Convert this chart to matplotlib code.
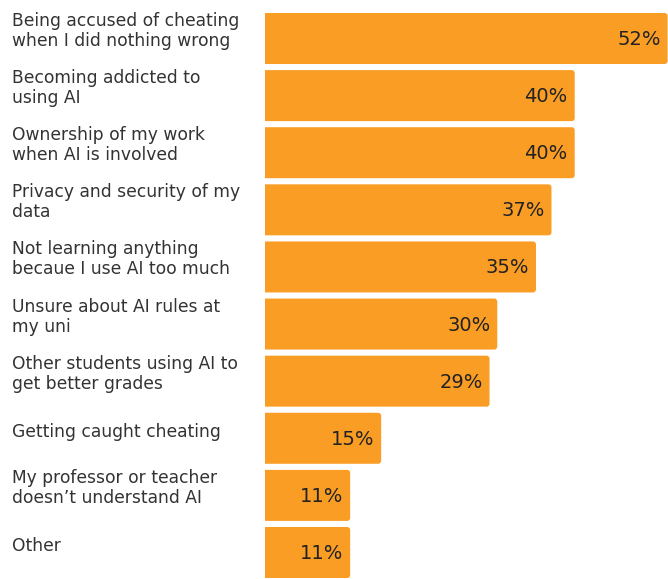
import matplotlib
matplotlib.use("Agg")
import matplotlib.pyplot as plt
from matplotlib.patches import PathPatch
from matplotlib.path import Path

categories = [
    "Being accused of cheating\nwhen I did nothing wrong",
    "Becoming addicted to\nusing AI",
    "Ownership of my work\nwhen AI is involved",
    "Privacy and security of my\ndata",
    "Not learning anything\nbecaue I use AI too much",
    "Unsure about AI rules at\nmy uni",
    "Other students using AI to\nget better grades",
    "Getting caught cheating",
    "My professor or teacher\ndoesn\u2019t understand AI",
    "Other",
]
values = [52, 40, 40, 37, 35, 30, 29, 15, 11, 11]

BAR_COLOR = "#F99D25"
LABEL_COLOR = "#333333"
VALUE_COLOR = "#222222"
FONT = ["DejaVu Sans"]

W, H = 668, 579
fig = plt.figure(figsize=(W / 100, H / 100), dpi=100)
ax = fig.add_axes([265 / W, 0, 1 - 265 / W, 1])

xmax = 52.05
ytop, ybot = -0.674, 9.464
ax.set_xlim(0, xmax)
ax.set_ylim(ybot, ytop)
ax.axis("off")

bar_h = 0.893
px_x = xmax / (W - 265)          # data units per pixel along x
px_y = (ybot - ytop) / H         # data units per pixel along y
rx, ry = 3 * px_x, 3 * px_y


def right_rounded_bar(y_center, width):
    """Horizontal bar with square left corners and rounded right corners."""
    y0, y1 = y_center - bar_h / 2, y_center + bar_h / 2
    verts = [
        (0, y0), (width - rx, y0),
        (width, y0), (width, y0 + ry),
        (width, y1 - ry),
        (width, y1), (width - rx, y1),
        (0, y1), (0, y0),
    ]
    codes = [Path.MOVETO, Path.LINETO,
             Path.CURVE3, Path.CURVE3,
             Path.LINETO,
             Path.CURVE3, Path.CURVE3,
             Path.LINETO, Path.CLOSEPOLY]
    return PathPatch(Path(verts, codes), facecolor=BAR_COLOR, edgecolor="none")


line_gap = 20  # px between label lines
for i, (cat, v) in enumerate(zip(categories, values)):
    ax.add_patch(right_rounded_bar(i, v))
    ax.text(v - 7 * px_x, i + 1 * px_y, f"{v}%", ha="right", va="center",
            fontsize=14, color=VALUE_COLOR, family=FONT)

    lines = cat.split("\n")
    center_px = 38.5 + 57.1 * i
    if len(lines) == 1:
        first_base = center_px - 1
    else:
        first_base = center_px - 25.5 + 13
    for k, line in enumerate(lines):
        base = first_base + k * line_gap
        fig.text(12 / W, 1 - base / H, line, ha="left", va="baseline",
                 fontsize=12.3, color=LABEL_COLOR, family=FONT)

fig.savefig("out.png", dpi=100, facecolor="white")
